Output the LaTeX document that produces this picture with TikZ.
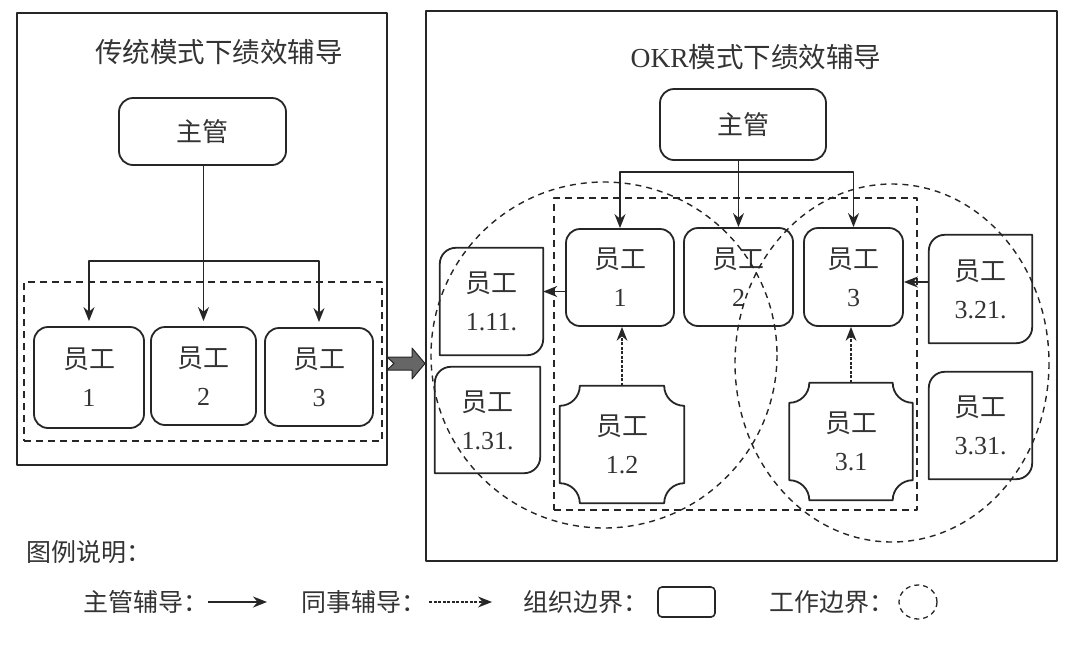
\documentclass[tikz,border=0pt]{standalone}
\usepackage{fontspec}
\setmainfont{Liberation Serif}
\newfontfamily\cjk{Noto Sans CJK SC}
\usetikzlibrary{arrows.meta,calc}
\definecolor{ink}{HTML}{262626}
\definecolor{txt}{HTML}{333333}
\newcommand{\zh}[1]{{\cjk #1}}
\begin{document}
\begin{tikzpicture}[x=1pt,y=-1pt,line join=round,
  frame/.style={draw=ink,line width=2pt,inner sep=0pt},
  ebox/.style={draw=ink,line width=1.8pt,rounded corners=14pt,align=center,inner sep=0pt,
    font=\fontsize{26}{38}\selectfont,text=txt},
  bare/.style={inner sep=0pt,align=center,font=\fontsize{26}{38}\selectfont,text=txt},
  ttl/.style={inner sep=0pt,font=\fontsize{27.5}{30}\selectfont,text=txt},
  legtxt/.style={inner sep=0pt,font=\fontsize{25}{30}\selectfont,text=txt},
  orgb/.style={draw=ink,dash pattern=on 7pt off 5pt,line width=1.6pt},
  workb/.style={draw=ink,dash pattern=on 6pt off 5pt,line width=1.4pt},
  bossarr/.style={draw=ink,line width=1.8pt,-{Stealth[length=14pt,width=11pt]}},
  peerarr/.style={draw=ink,line width=1.3pt,dash pattern=on 3pt off 1.5pt,-{Stealth[length=14pt,width=11pt,line width=0pt]}},
  snip/.style={draw=ink,line width=1.8pt}
]
\useasboundingbox (0,0) rectangle (1080,646);

% ---------- left panel ----------
\node[frame,minimum width=370pt,minimum height=452pt] (lframe) at (202,239) {};
\node[ttl] (ltitle) at (219,52) {\zh{传统模式下绩效辅导}};
\node[ebox,minimum width=167pt,minimum height=67pt] (ldr) at (202.5,131.5) {\zh{主管}};
\node[orgb,minimum width=358pt,minimum height=159pt,inner sep=0pt] (ldash) at (203,361.5) {};
\node[ebox,minimum width=110pt,minimum height=101pt] (l1) at (89,377.5) {\zh{员工}\\1};
\node[ebox,minimum width=105pt,minimum height=98pt] (l2) at (203.5,376) {\zh{员工}\\2};
\node[ebox,minimum width=108pt,minimum height=98pt] (l3) at (319,377) {\zh{员工}\\3};
\coordinate (lbr) at (203.5,261);
\draw[bossarr,shorten >=5pt] (ldr.south -| l2) -- (l2.north);
\draw[bossarr,shorten >=5pt] (lbr) -| (l1.north);
\draw[bossarr,shorten >=5pt] (lbr) -| (l3.north);

% ---------- transition arrow ----------
\draw[draw=ink,fill=black!60,line width=1pt]
  (387,357) -- (394,363.5) -- (387,370) -- (412,370) -- (412,379) -- (425,363.5)
  -- (412,348) -- (412,357) -- cycle;

% ---------- right panel ----------
\node[frame,minimum width=631pt,minimum height=550pt] (rframe) at (741.5,286) {};
\node[ttl] (rtitle) at (756,57) {OKR\zh{模式下绩效辅导}};
\node[ebox,minimum width=166pt,minimum height=71pt] (rdr) at (743,124.5) {\zh{主管}};
\node[orgb,minimum width=363pt,minimum height=312pt,inner sep=0pt] (rdash) at (735.5,354) {};
\node[ebox,minimum width=108pt,minimum height=97pt] (r1) at (620,277.5) {\zh{员工}\\1};
\node[ebox,minimum width=109pt,minimum height=98pt] (r2) at (738.5,277) {\zh{员工}\\2};
\node[ebox,minimum width=99pt,minimum height=98pt] (r3) at (853.5,277) {\zh{员工}\\3};
\coordinate (rbr) at (738.5,172);
\draw[bossarr] (rdr.south -| rbr) -- (r2.north);
\draw[bossarr] (rbr) -| (r1.north);
\draw[bossarr] (rbr) -| (r3.north);

% side boxes (top-left and bottom-right corners rounded)
\node[bare,minimum width=103pt,minimum height=107pt] (e111) at (491.5,301.5) {\zh{员工}\\1.11.};
\node[bare,minimum width=105pt,minimum height=106pt] (e131) at (487.5,420) {\zh{员工}\\1.31.};
\node[bare,minimum width=103pt,minimum height=108pt] (e321) at (980.5,289) {\zh{员工}\\3.21.};
\node[bare,minimum width=103pt,minimum height=107pt] (e331) at (980.5,425.5) {\zh{员工}\\3.31.};
\foreach \n in {e111,e131,e321,e331}
  \draw[snip] (\n.north east) [rounded corners=16pt] -- (\n.south east) [sharp corners]
    -- (\n.south west) [rounded corners=16pt] -- (\n.north west) [sharp corners] -- cycle;

% plaque boxes (concave corners)
\node[bare,minimum width=124pt,minimum height=117pt] (e12) at (622,444.5) {\zh{员工}\\1.2};
\node[bare,minimum width=123pt,minimum height=117pt] (e31) at (851,441.5) {\zh{员工}\\3.1};
\foreach \n in {e12,e31}
  \draw[snip] ($(\n.north west)+(20,0)$) -- ($(\n.north east)+(-20,0)$)
    arc[start angle=180,end angle=90,radius=20]
    -- ($(\n.south east)+(0,-20)$) arc[start angle=270,end angle=180,radius=20]
    -- ($(\n.south west)+(20,0)$) arc[start angle=0,end angle=-90,radius=20]
    -- ($(\n.north west)+(0,20)$) arc[start angle=90,end angle=0,radius=20] -- cycle;

% coaching connectors
\draw[bossarr] ([yshift=-14pt]r1.west) -- ([yshift=-14pt]r1.west -| e111.east);
\draw[bossarr] ([yshift=-5pt]r3.east -| e321.west) -- ([yshift=-5pt]r3.east);
\draw[peerarr] (e12.north) -- (e12.north |- r1.south);
\draw[peerarr] (e31.north) -- (e31.north |- r3.south);

% work boundaries
\draw[workb] (604,355) circle[radius=173];
\draw[workb] (892,363) ellipse[x radius=157,y radius=179];

% ---------- legend ----------
\node[legtxt,anchor=west] (lgt) at (26,552) {\zh{图例说明：}};
\node[legtxt,anchor=west] (lg1) at (83,602) {\zh{主管辅导：}};
\coordinate (lg1e) at (267,602);
\draw[bossarr] (lg1.east) -- (lg1e);
\node[legtxt,anchor=west] (lg2) at (301,602) {\zh{同事辅导：}};
\coordinate (lg2e) at (492,602);
\draw[peerarr] ([xshift=3pt]lg2.east) -- (lg2e);
\node[legtxt,anchor=west] (lg3) at (523,602) {\zh{组织边界：}};
\node[draw=ink,line width=1.6pt,rounded corners=4pt,minimum width=57pt,minimum height=30pt,inner sep=0pt] (lgbox) at (686.5,602) {};
\node[legtxt,anchor=west] (lg4) at (769,602) {\zh{工作边界：}};
\draw[draw=ink,dash pattern=on 5pt off 4pt,line width=1.3pt] (918,602) ellipse[x radius=19,y radius=17];
\end{tikzpicture}
\end{document}
